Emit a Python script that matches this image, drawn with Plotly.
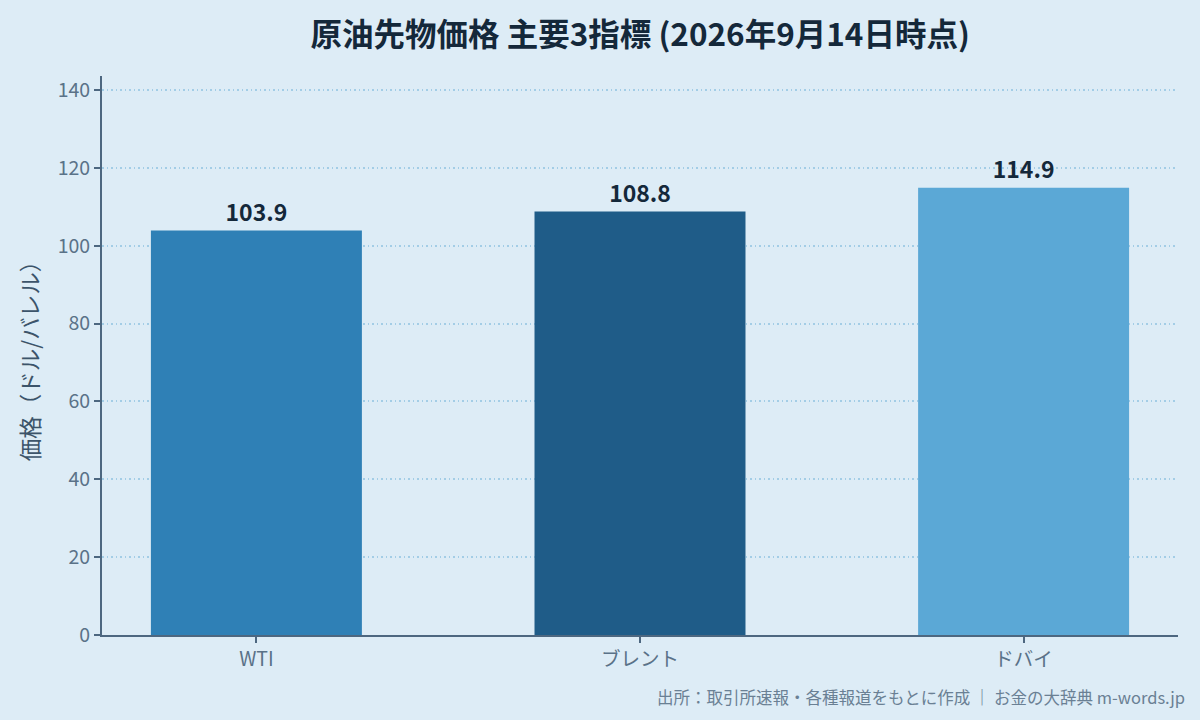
import plotly.graph_objects as go

categories = ["WTI", "ブレント", "ドバイ"]
prices = [103.9, 108.8, 114.9]
bar_colors = ["#2f80b6", "#1f5c88", "#5ba8d6"]
y_ticks = [0, 20, 40, 60, 80, 100, 120, 140]

font_jp = "Noto Sans CJK JP"
bg = "#ddecf6"

fig = go.Figure()
fig.add_trace(go.Bar(
    x=list(range(len(categories))), y=prices,
    width=0.55,
    marker=dict(color=bar_colors, line=dict(width=0)),
    text=[f"<b>{v:.1f}</b>" for v in prices],
    textposition="outside",
    textfont=dict(family=font_jp, size=23, color="#14283a"),
    cliponaxis=False,
    hoverinfo="skip",
))

fig.update_layout(
    width=1200, height=720,
    paper_bgcolor=bg, plot_bgcolor=bg,
    margin=dict(l=102, r=22, t=76, b=85),
    showlegend=False,
    title=dict(
        text="<b>原油先物価格 主要3指標 (2026年9月14日時点)</b>",
        x=0.5335, xanchor="center", y=0.951, yanchor="middle",
        font=dict(family=font_jp, size=31.5, color="#14283a"),
    ),
    font=dict(family=font_jp, color="#5a7288"),
)

fig.update_xaxes(
    range=[-0.4025, 2.4025],
    tickmode="array", tickvals=list(range(len(categories))), ticktext=categories,
    tickfont=dict(size=19.5, color="#5a7288"),
    showline=True, linecolor="#4d6780", linewidth=2,
    ticks="outside", ticklen=6, tickcolor="#4d6780", tickwidth=1.5,
    showgrid=False, zeroline=False,
)
fig.update_yaxes(
    range=[0, max(prices) * 1.25],
    tickmode="array", tickvals=y_ticks,
    tickfont=dict(size=19.5, color="#5a7288"),
    showline=True, linecolor="#4d6780", linewidth=2,
    ticks="outside", ticklen=6, tickcolor="#4d6780", tickwidth=1.5,
    showgrid=True, gridcolor="#a3cde6", griddash="1.5px,3px", gridwidth=1.5,
    zeroline=False,
    title=dict(text="価格（ドル/バレル）", font=dict(size=22.5, color="#3c546a"), standoff=12),
)

fig.add_annotation(
    text="出所：取引所速報・各種報道をもとに作成 ｜ お金の大辞典 m-words.jp",
    xref="paper", yref="paper", x=1.008, y=-0.111, xanchor="right", yanchor="middle",
    showarrow=False, font=dict(family=font_jp, size=16.5, color="#6a8094"),
)

fig.write_html("out.html", config={"displayModeBar": False},
               post_script="document.body.style.margin='0';")
